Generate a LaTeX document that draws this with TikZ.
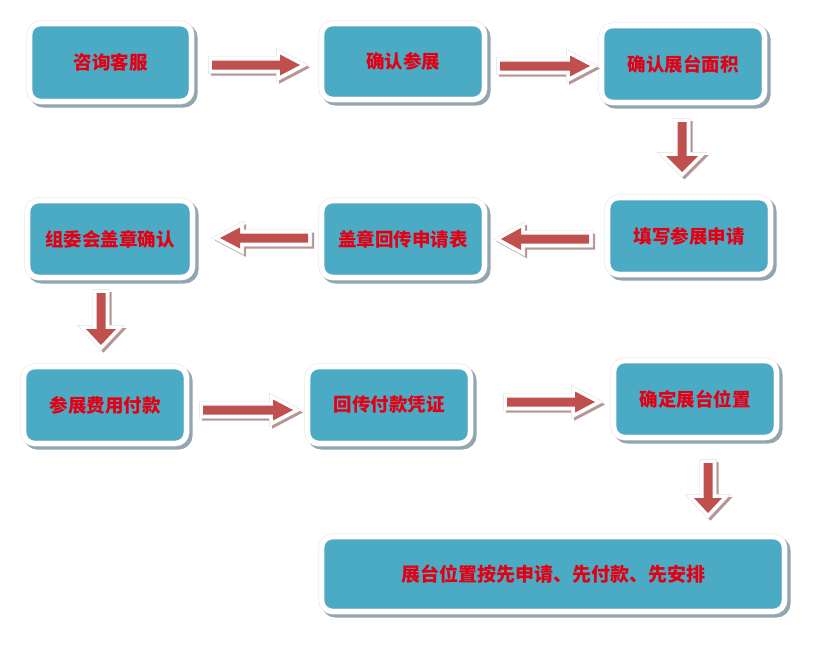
\documentclass[tikz,border=0pt]{standalone}
\usepackage{fontspec}
\newfontfamily\cjk{Noto Sans CJK SC}
\usetikzlibrary{shadows}
\definecolor{boxblue}{HTML}{4BABC5}
\definecolor{boxshadow}{HTML}{93A5AE}
\definecolor{arrred}{HTML}{C0504D}
\definecolor{arrshadow}{HTML}{B89595}
\definecolor{textred}{RGB}{228,0,20}
\tikzset{
  box/.style={rounded corners=11pt, fill=boxblue, draw=gray!25, double=white,
    double distance=5pt, inner sep=0pt, text=textred,
    font=\cjk\bfseries\fontsize{18.5}{21}\selectfont,
    drop shadow={shadow xshift=3pt, shadow yshift=-3pt, fill=boxshadow,
      draw=boxshadow, line width=6pt, opacity=1}},
  arrline/.style={line join=miter, miter limit=10}
}
% cx cy angle L shafthalf headhalf headlength
\newcommand{\barrow}[7]{%
  \begin{scope}[shift={(#1+2.5,#2+2.5)}, rotate=#3]
    \filldraw[arrshadow, arrline, line width=7pt]
      (-#4/2,-#5) -- (#4/2-#7,-#5) -- (#4/2-#7,-#6) -- (#4/2,0) -- (#4/2-#7,#6) -- (#4/2-#7,#5) -- (-#4/2,#5) -- cycle;
  \end{scope}
  \begin{scope}[shift={(#1,#2)}, rotate=#3]
    \draw[gray!25, arrline, line width=8pt]
      (-#4/2,-#5) -- (#4/2-#7,-#5) -- (#4/2-#7,-#6) -- (#4/2,0) -- (#4/2-#7,#6) -- (#4/2-#7,#5) -- (-#4/2,#5) -- cycle;
    \filldraw[draw=white, fill=arrred, arrline, line width=7pt]
      (-#4/2,-#5) -- (#4/2-#7,-#5) -- (#4/2-#7,-#6) -- (#4/2,0) -- (#4/2-#7,#6) -- (#4/2-#7,#5) -- (-#4/2,#5) -- cycle;
    \fill[arrred]
      (-#4/2,-#5) -- (#4/2-#7,-#5) -- (#4/2-#7,-#6) -- (#4/2,0) -- (#4/2-#7,#6) -- (#4/2-#7,#5) -- (-#4/2,#5) -- cycle;
  \end{scope}}
\begin{document}
\begin{tikzpicture}[x=1pt,y=-1pt]
\useasboundingbox[fill=white] (0,0) rectangle (816,653);
\node[box, minimum width=162pt, minimum height=78pt] (b1) at (110.5,62.5) {咨询客服};
\node[box, minimum width=163pt, minimum height=76pt] (b2) at (403,61.5) {确认参展};
\node[box, minimum width=163pt, minimum height=77pt] (b3) at (683,64) {确认展台面积};
\node[box, minimum width=163pt, minimum height=77pt] (b4) at (689,236) {填写参展申请};
\node[box, minimum width=163pt, minimum height=77pt] (b5) at (403,239) {盖章回传申请表};
\node[box, minimum width=165pt, minimum height=77pt] (b6) at (110,239) {组委会盖章确认};
\node[box, minimum width=163pt, minimum height=77pt] (b7) at (105,405) {参展费用付款};
\node[box, minimum width=163pt, minimum height=77pt] (b8) at (389,405) {回传付款凭证};
\node[box, minimum width=163pt, minimum height=77pt] (b9) at (695,399) {确定展台位置};
\node[box, minimum width=463pt, minimum height=75pt, font=\cjk\bfseries\fontsize{19}{22}\selectfont] (b10) at (553,574) {展台位置按先申请、先付款、先安排};
\barrow{256}{65}{0}{88}{4.5}{10.5}{20}
\barrow{545}{66}{0}{90}{4.5}{10.5}{20}
\barrow{682}{147}{-90}{50}{4.5}{16}{16}
\barrow{545}{239}{180}{88}{4.5}{11}{20}
\barrow{264}{238}{180}{88}{4.5}{10.5}{20}
\barrow{101}{319}{-90}{52}{4.5}{15}{16}
\barrow{248}{410}{0}{90}{4.5}{10.5}{20}
\barrow{551}{402}{0}{88}{4.5}{10.5}{20}
\barrow{708}{488}{-90}{50}{4.5}{14}{15}
\end{tikzpicture}
\end{document}
